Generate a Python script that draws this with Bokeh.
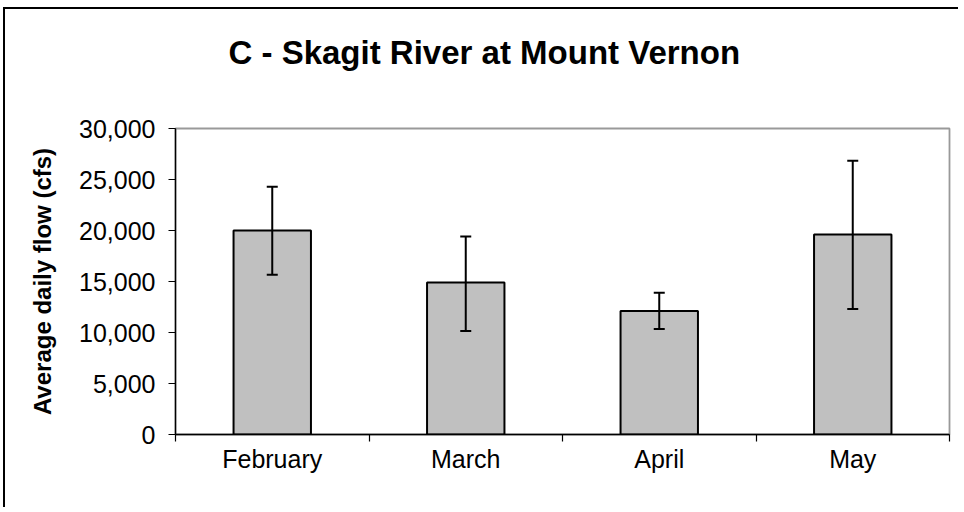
from bokeh.plotting import figure
from bokeh.models import (ColumnDataSource, FixedTicker, NumeralTickFormatter,
                          Whisker, TeeHead, Range1d, Title)
from bokeh.embed import file_html
from bokeh.resources import INLINE

title_text = "C - Skagit River at Mount Vernon"
y_title = "Average daily flow (cfs)"
categories = ["February", "March", "April", "May"]
means = [20000, 14900, 12100, 19600]
err_upper = [24300, 19400, 13900, 26850]
err_lower = [15650, 10150, 10350, 12300]
y_ticks = [0, 5000, 10000, 15000, 20000, 25000, 30000]

xpos = [i + 0.5 for i in range(len(categories))]
src = ColumnDataSource(dict(x=xpos, top=means, upper=err_upper, lower=err_lower))

FONT = "Liberation Sans"

p = figure(width=955, height=500, output_backend="svg", toolbar_location=None,
           x_range=Range1d(0, len(categories)), y_range=Range1d(0, 30000),
           min_border_left=170, min_border_right=11, min_border_top=119,
           min_border_bottom=75)

p.styles = {"border-top": "2px solid black", "border-left": "2px solid black",
            "margin-left": "3px", "margin-top": "7px"}

# spacer between frame and title, then the title itself (outermost)
p.title.text = ""
spacer = Title(text=" ", text_font=FONT, text_font_size="1px", standoff=50)
p.add_layout(spacer, "above")
main_title = Title(text=title_text, text_font=FONT, text_font_size="33px",
                   text_font_style="bold", text_color="black", align="left",
                   offset=53, standoff=10)
p.add_layout(main_title, "above")

p.vbar(x="x", top="top", width=0.4, bottom=0, source=src,
       fill_color="#c0c0c0", line_color="black", line_width=2)

w = Whisker(source=src, base="x", upper="upper", lower="lower",
            line_color="black", line_width=2, level="overlay",
            upper_head=TeeHead(size=11, line_color="black", line_width=2),
            lower_head=TeeHead(size=11, line_color="black", line_width=2))
p.add_layout(w)

p.xgrid.visible = False
p.ygrid.visible = False
p.outline_line_color = "#999999"
p.outline_line_width = 1.8
p.background_fill_color = "white"
p.border_fill_color = "white"

# x axis: labels at centers, ticks at category boundaries (minor ticks)
xa = p.xaxis[0]
xa.ticker = FixedTicker(ticks=xpos, minor_ticks=list(range(len(categories) + 1)))
xa.major_label_overrides = {x: c for x, c in zip(xpos, categories)}
xa.major_tick_out = 0
xa.major_tick_in = 0
xa.minor_tick_out = 7
xa.minor_tick_in = 0
xa.minor_tick_line_color = "black"
xa.minor_tick_line_width = 1.2
xa.axis_line_color = "black"
xa.axis_line_width = 1.4
xa.major_label_text_font = FONT
xa.major_label_text_font_size = "25px"
xa.major_label_text_color = "black"
xa.major_label_standoff = 3

ya = p.yaxis[0]
ya.ticker = FixedTicker(ticks=y_ticks, minor_ticks=[])
ya.formatter = NumeralTickFormatter(format="0,0")
ya.major_tick_out = 7
ya.major_tick_in = 0
ya.major_tick_line_color = "black"
ya.major_tick_line_width = 1.2
ya.axis_line_color = "black"
ya.axis_line_width = 1.4
ya.major_label_text_font = FONT
ya.major_label_text_font_size = "25px"
ya.major_label_text_color = "black"
ya.major_label_standoff = 13
ya.axis_label = y_title
ya.axis_label_text_font = FONT
ya.axis_label_text_font_size = "24px"
ya.axis_label_text_font_style = "bold"
ya.axis_label_text_color = "black"
ya.axis_label_standoff = 20

open("out.html", "w").write(file_html(p, INLINE))
